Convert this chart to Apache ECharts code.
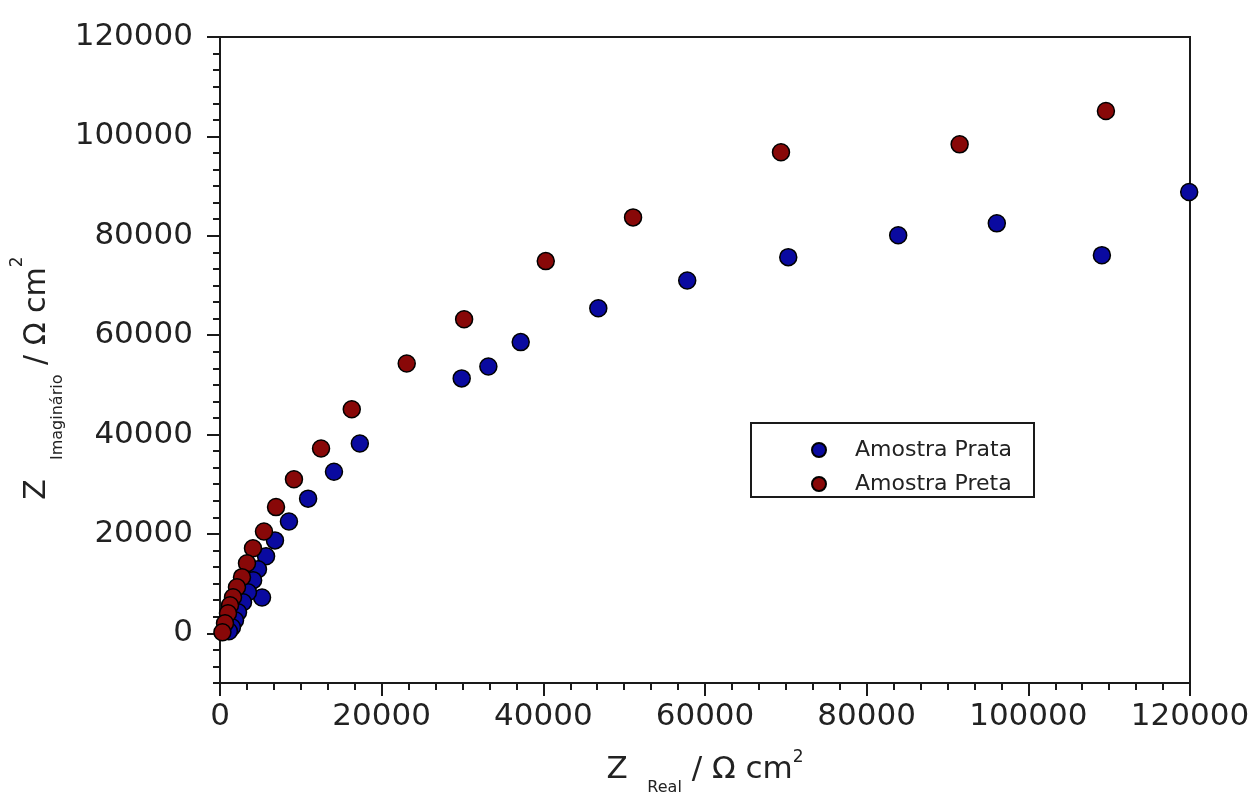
<!DOCTYPE html>
<html>
<head>
<meta charset="utf-8">
<script src="https://cdn.jsdelivr.net/npm/echarts@6/dist/echarts.min.js"></script>
<style>
  html, body { margin: 0; padding: 0; background: #fff; }
  #nyquist { width: 1254px; height: 796px; }
</style>
</head>
<body>
<div id="nyquist"></div>
<script>
// dados (Z real, Z imaginário)
var prataReal = [119900, 109100, 96100, 83900, 70300, 57800, 46800, 37200, 33200, 29900,
  17300, 14100, 10900, 8530, 6800, 5700, 4700, 4100, 5200, 3460, 2850, 2230, 1860, 1480, 1100]
var prataImag = [88800, 76100, 82500, 80100, 75700, 71000, 65400, 58600, 53700, 51300,
  38200, 32500, 27100, 22500, 18700, 15500, 12900, 10700, 7200, 8250, 6240, 4230, 2620, 1210, 400]

var pretaReal = [109600, 91500, 69400, 51100, 40300, 30200, 23100, 16300, 12500, 9150,
  6930, 5440, 4080, 3340, 2720, 2100, 1610, 1240, 990, 620, 300]
var pretaImag = [105100, 98400, 96800, 83700, 74900, 63200, 54300, 45100, 37200, 31000,
  25400, 20500, 17100, 14100, 11300, 9260, 7250, 5640, 4030, 2010, 200]

var yTicks = [0, 20000, 40000, 60000, 80000, 100000, 120000]

function pares(xs, ys) {
  return xs.map(function (x, i) { return [x, ys[i]] })
}

function semSeparador(v) {
  return String(v)
}

var fonte = 'DejaVu Sans'
var corEixo = '#1a1a1a'

var chart = echarts.init(document.getElementById('nyquist'))
chart.setOption({
  backgroundColor: '#fff',
  animation: false,
  grid: {
    left: 220,
    right: 64,
    top: 37,
    bottom: 113,
    containLabel: false,
    outerBoundsMode: 'none',
    show: true,
    borderColor: corEixo,
    borderWidth: 2
  },
  legend: {
    orient: 'vertical',
    left: 806,
    top: 434,
    itemWidth: 16,
    itemHeight: 14,
    itemGap: 12,
    icon: 'circle',
    textStyle: {
      fontFamily: fonte,
      fontSize: 22,
      color: '#222',
      lineHeight: 20,
      padding: [0, 0, 0, 23]
    }
  },
  graphic: [{
    type: 'rect',
    left: 750,
    top: 422,
    shape: { width: 283, height: 74 },
    style: { fill: 'transparent', stroke: corEixo, lineWidth: 2 },
    z: 10
  }],
  xAxis: {
    type: 'value',
    min: 0,
    max: 120000,
    interval: 20000,
    name: '{m|Z}  {s|Real} {m|/ Ω cm}{p|2}',
    nameLocation: 'middle',
    nameGap: 61,
    nameMoveOverlap: false,
    nameTextStyle: {
      fontFamily: fonte,
      fontSize: 31,
      color: '#222',
      rich: {
        m: { fontFamily: fonte, fontSize: 31, color: '#222', verticalAlign: 'middle' },
        s: { fontFamily: fonte, fontSize: 16, color: '#222', verticalAlign: 'middle', padding: [36, 0, 0, 0] },
        p: { fontFamily: fonte, fontSize: 17, color: '#222', verticalAlign: 'middle', padding: [0, 0, 24, 0] }
      }
    },
    axisLine: { show: true, onZero: false, lineStyle: { color: corEixo, width: 2 } },
    axisTick: { show: true, inside: false, length: 13, lineStyle: { color: corEixo, width: 2 } },
    minorTick: { show: true, splitNumber: 6, length: 7, lineStyle: { color: corEixo, width: 2 } },
    splitLine: { show: false },
    axisLabel: {
      margin: 18,
      fontFamily: fonte,
      fontSize: 31,
      color: '#222',
      formatter: semSeparador,
      showMaxLabel: true,
      showMinLabel: true
    }
  },
  yAxis: [
    {
      type: 'value',
      min: -10000,
      max: 120000,
      interval: 10000,
      name: '{m|Z}  {s|Imaginário} {m|/ Ω cm}{p|2}',
      nameLocation: 'middle',
      nameGap: 154,
      nameMoveOverlap: false,
      nameTextStyle: {
        fontFamily: fonte,
        fontSize: 30,
        color: '#222',
        padding: [0, 36, 0, 0],
        rich: {
          m: { fontFamily: fonte, fontSize: 30, color: '#222', verticalAlign: 'middle' },
          s: { fontFamily: fonte, fontSize: 16, color: '#222', verticalAlign: 'middle', padding: [42, 0, 0, 0] },
          p: { fontFamily: fonte, fontSize: 17, color: '#222', verticalAlign: 'middle', padding: [0, 0, 38, 0] }
        }
      },
      axisLine: { show: true, onZero: false, lineStyle: { color: corEixo, width: 2 } },
      axisTick: { show: true, inside: false, length: 13, customValues: yTicks, lineStyle: { color: corEixo, width: 2 } },
      splitLine: { show: false },
      axisLabel: {
        margin: 27,
        customValues: yTicks,
        fontFamily: fonte,
        fontSize: 31,
        color: '#222',
        formatter: semSeparador
      }
    },
    {
      // só os traços menores do eixo y
      type: 'value',
      position: 'left',
      min: -10000,
      max: 120000,
      interval: 10000,
      axisLine: { show: false, onZero: false },
      axisTick: { show: true, inside: false, length: 7, lineStyle: { color: corEixo, width: 2 } },
      minorTick: { show: true, splitNumber: 3, length: 7, lineStyle: { color: corEixo, width: 2 } },
      axisLabel: { show: false },
      splitLine: { show: false }
    }
  ],
  series: [
    {
      name: 'Amostra Prata',
      type: 'scatter',
      symbol: 'circle',
      symbolSize: 17,
      clip: true,
      itemStyle: { color: '#0a0aa0', borderColor: '#000', borderWidth: 1.5, opacity: 1 },
      data: pares(prataReal, prataImag)
    },
    {
      name: 'Amostra Preta',
      type: 'scatter',
      symbol: 'circle',
      symbolSize: 17,
      clip: true,
      itemStyle: { color: '#880808', borderColor: '#000', borderWidth: 1.5, opacity: 1 },
      data: pares(pretaReal, pretaImag)
    }
  ]
})
</script>
</body>
</html>
